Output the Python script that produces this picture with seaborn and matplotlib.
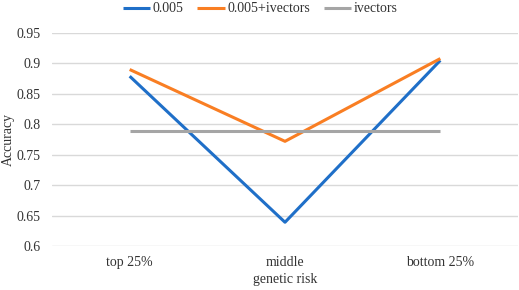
import matplotlib
matplotlib.use("Agg")
import matplotlib.pyplot as plt
import seaborn as sns
import pandas as pd

categories = ["top 25%", "middle", "bottom 25%"]
s_005 = [0.879, 0.639, 0.905]
s_005_iv = [0.890, 0.772, 0.908]
s_iv = [0.789, 0.789, 0.789]
series_names = ["0.005", "0.005+ivectors", "ivectors"]
yticks = [0.6, 0.65, 0.7, 0.75, 0.8, 0.85, 0.9, 0.95]
ytick_labels = ["0.6", "0.65", "0.7", "0.75", "0.8", "0.85", "0.9", "0.95"]

rows = []
for name, vals in zip(series_names, [s_005, s_005_iv, s_iv]):
    for i, (c, v) in enumerate(zip(categories, vals)):
        rows.append({"x": i, "cat": c, "Accuracy": v, "series": name})
df = pd.DataFrame(rows)

sns.set_theme(style="white")
plt.rcParams['font.family'] = ['Liberation Serif', 'DejaVu Serif']

FS = 10
fig = plt.figure(figsize=(5.19, 2.9), dpi=100)
ax = fig.add_axes([52/519, 1 - 246/290, (518-52)/519, (246-33)/290])
palette = {"0.005": "#1F6FC8", "0.005+ivectors": "#F97E23", "ivectors": "#A5A5A5"}
sns.lineplot(data=df, x="x", y="Accuracy", hue="series", palette=palette,
             linewidth=2.2, ax=ax, legend=True)
ax.set_xlim(-0.5, 2.5)
ax.set_ylim(0.6, 0.95)
ax.set_yticks(yticks)
ax.set_yticklabels(ytick_labels)
ax.set_xticks(range(len(categories)))
ax.set_xticklabels(categories)
ax.tick_params(axis='both', length=0, labelsize=FS, colors="#333333")
ax.tick_params(axis='x', pad=7.5)
ax.tick_params(axis='y', pad=8)
ax.grid(axis='y', color="#D9D9D9", linewidth=1)
ax.set_axisbelow(True)
for sp in ax.spines.values():
    sp.set_visible(False)
ax.set_xlabel("genetic risk", fontsize=FS, color="#333333")
ax.set_ylabel("Accuracy", fontsize=FS, color="#333333")
ax.xaxis.set_label_coords(0.5, -(279 - 246) / 213, transform=ax.transAxes)
ax.xaxis.label.set_va('center')
ax.yaxis.set_label_coords((8 - 52) / 466, 0.5, transform=ax.transAxes)
ax.yaxis.label.set_va('center')
for l in ax.lines:
    l.set_clip_on(False)
    l.set_solid_capstyle('butt')
leg = ax.legend(loc='center', bbox_to_anchor=((260 - 52) / 466, 1 + (33 - 9) / 213), ncol=3,
                frameon=False, fontsize=FS, handlelength=2.0, handletextpad=0.15,
                columnspacing=1.0, borderaxespad=0)
for t in leg.get_texts():
    t.set_color("#333333")
fig.savefig("out.png", dpi=100)
